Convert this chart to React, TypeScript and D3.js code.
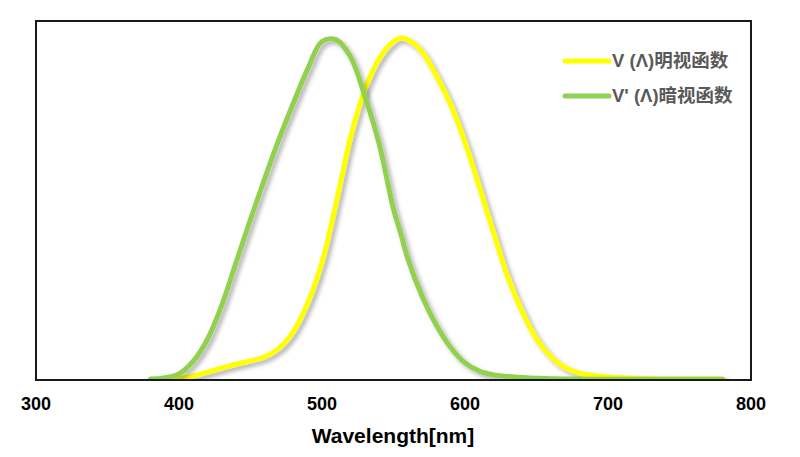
import React from "react";
import * as d3 from "d3";

const wavelengths = [380, 390, 400, 410, 420, 430, 440, 450, 460, 470, 480, 490, 500, 510, 520, 530, 540, 550, 555, 560, 570, 580, 590, 600, 610, 620, 630, 640, 650, 660, 670, 680, 690, 700, 720, 750, 780];

const photopic = [0.0, 0.001, 0.004, 0.012, 0.023, 0.035, 0.046, 0.056, 0.068, 0.093, 0.142, 0.225, 0.345, 0.52, 0.71, 0.85, 0.94, 0.99, 1.0, 0.995, 0.96, 0.89, 0.805, 0.695, 0.565, 0.43, 0.3, 0.2, 0.12, 0.068, 0.036, 0.02, 0.013, 0.009, 0.005, 0.003, 0.003];

const scotopic = [0.003, 0.006, 0.018, 0.055, 0.12, 0.22, 0.345, 0.47, 0.59, 0.705, 0.81, 0.91, 0.99, 0.995, 0.945, 0.83, 0.69, 0.5, 0.43, 0.355, 0.245, 0.16, 0.095, 0.05, 0.026, 0.015, 0.01, 0.007, 0.005, 0.004, 0.003, 0.003, 0.002, 0.002, 0.002, 0.002, 0.002];

const xTicks = [300, 400, 500, 600, 700, 800];
const seriesNames = ["V (Λ)明视函数", "V' (Λ)暗视函数"];
const seriesColors = ["#FFFF00", "#92D050"];
const xTitle = "Wavelength[nm]";

export default function App() {
  const left = 36, right = 751, top = 21, bottom = 380;
  const x = d3.scaleLinear().domain([300, 800]).range([left, right]);
  const y = d3.scaleLinear().domain([0, 1.05]).range([bottom, top]);
  const line = d3
    .line<number>()
    .x((_, i) => x(wavelengths[i]))
    .y((d) => y(d))
    .curve(d3.curveCatmullRom.alpha(0.5));

  const series = [photopic, scotopic];
  const font = "'Liberation Sans', Arial, 'Noto Sans CJK SC', sans-serif";

  return (
    <svg
      width={800}
      height={457}
      style={{ position: "absolute", left: 0, top: 0, display: "block", background: "#fff" }}
    >
      <defs>
        <filter id="shadow" x="-10%" y="-10%" width="120%" height="120%">
          <feDropShadow dx="3" dy="3" stdDeviation="2" floodColor="#000" floodOpacity="0.3" />
        </filter>
        <clipPath id="plotClip">
          <rect x={left} y={top} width={right - left} height={bottom - top} />
        </clipPath>
      </defs>
      <rect x={0} y={0} width={800} height={457} fill="#fff" />
      <g clipPath="url(#plotClip)">
        {series.map((s, i) => (
          <path
            key={i}
            d={line(s) || ""}
            fill="none"
            stroke={seriesColors[i]}
            strokeWidth={5}
            strokeLinecap="round"
            strokeLinejoin="round"
            filter="url(#shadow)"
          />
        ))}
      </g>
      <rect
        x={left}
        y={top}
        width={right - left}
        height={bottom - top}
        fill="none"
        stroke="#1a1a1a"
        strokeWidth={2}
      />
      {xTicks.map((t) => (
        <text
          key={t}
          x={x(t)}
          y={410}
          textAnchor="middle"
          fontFamily={font}
          fontWeight="bold"
          fontSize={18}
          fill="#000"
        >
          {t}
        </text>
      ))}
      <text
        x={393}
        y={443}
        textAnchor="middle"
        fontFamily={font}
        fontWeight="bold"
        fontSize={21}
        fill="#000"
      >
        {xTitle}
      </text>
      {seriesNames.map((name, i) => {
        const ly = 61 + i * 35;
        return (
          <g key={name}>
            <line
              x1={565}
              x2={609}
              y1={ly}
              y2={ly}
              stroke={seriesColors[i]}
              strokeWidth={5}
              strokeLinecap="round"
            />
            <text
              x={612}
              y={ly + 6}
              fontFamily={font}
              fontWeight="bold"
              fontSize={18.5}
              fill="#595959"
            >
              {name}
            </text>
          </g>
        );
      })}
    </svg>
  );
}
